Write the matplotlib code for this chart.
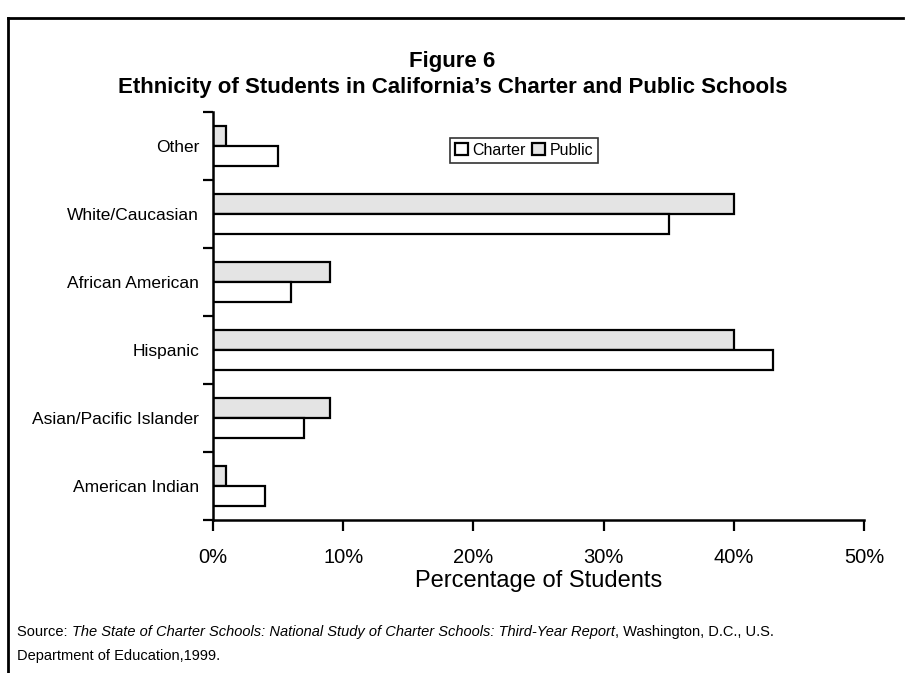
import matplotlib
matplotlib.use("Agg")
import matplotlib.pyplot as plt
import numpy as np
from matplotlib.lines import Line2D

categories = ["American Indian", "Asian/Pacific Islander", "Hispanic",
              "African American", "White/Caucasian", "Other"]
charter = [4, 7, 43, 6, 35, 5]
public = [1, 9, 40, 9, 40, 1]
xticks = [0, 10, 20, 30, 40, 50]

plt.rcParams['font.family'] = ['Liberation Sans Narrow', 'Liberation Sans', 'DejaVu Sans']

fig = plt.figure(figsize=(9.05, 6.73), dpi=100)
W, H = 905, 673

# frame around the figure
fig.add_artist(Line2D([8 / W, 8 / W], [0, 1 - 18 / H], color='black', lw=2, transform=fig.transFigure))
fig.add_artist(Line2D([8 / W, 903 / W], [1 - 18 / H, 1 - 18 / H], color='black', lw=2, transform=fig.transFigure))

ax = fig.add_axes([213 / W, 1 - 520 / H, (864 - 213) / W, (520 - 112) / H])

y = np.arange(len(categories))
h = 0.29
ax.barh(y + h / 2, public, height=h, color='#e4e4e4', edgecolor='black', linewidth=1.6, label='Public')
ax.barh(y - h / 2, charter, height=h, color='white', edgecolor='black', linewidth=1.6, label='Charter')

ax.set_xlim(0, 50)
ax.set_ylim(-0.5, len(categories) - 0.5)
ax.set_xticks(xticks)
ax.set_xticklabels([f"{v}%" for v in xticks], fontsize=14.5)
ax.set_yticks(y)
ax.set_yticklabels(categories, fontsize=12.5)
ax.set_yticks(np.arange(-0.5, len(categories), 1), minor=True)
ax.tick_params(axis='y', which='major', length=0, pad=10)
ax.tick_params(axis='y', which='minor', length=7, width=1.6, direction='out')
ax.tick_params(axis='x', length=8, width=1.6, direction='out', pad=12)
for s in ['top', 'right']:
    ax.spines[s].set_visible(False)
for s in ['left', 'bottom']:
    ax.spines[s].set_linewidth(1.8)
ax.set_xlabel("Percentage of Students", fontsize=17, labelpad=2)

handles, labels = ax.get_legend_handles_labels()
leg = ax.legend(handles[::-1], labels[::-1], loc='upper center', bbox_to_anchor=(0.478, 0.936),
                ncol=2, fontsize=11.5, frameon=True, fancybox=False, edgecolor='black',
                handlelength=0.8, handleheight=0.8, handletextpad=0.3, columnspacing=0.4,
                borderpad=0.3, borderaxespad=0)
leg.get_frame().set_linewidth(1.2)

fig.text(0.5, 1 - 62 / H, "Figure 6", ha='center', va='center', fontsize=16, fontweight='bold')
fig.text(0.5, 1 - 88 / H, "Ethnicity of Students in California\u2019s Charter and Public Schools",
         ha='center', va='center', fontsize=16, fontweight='bold')

# source note with mixed styles
fig.canvas.draw()
renderer = fig.canvas.get_renderer()
x0 = 17 / W
yline = 1 - 632 / H
pieces = [("Source: ", 'normal'),
          ("The State of Charter Schools: National Study of Charter Schools: Third-Year Report", 'italic'),
          (", Washington, D.C., U.S.", 'normal')]
xcur = x0
for txt, style in pieces:
    t = fig.text(xcur, yline, txt, ha='left', va='center', fontsize=10.5, style=style)
    bb = t.get_window_extent(renderer)
    xcur += bb.width / W
fig.text(x0, 1 - 656 / H, "Department of Education,1999.", ha='left', va='center', fontsize=10.5)

fig.savefig("out.png", dpi=100)
